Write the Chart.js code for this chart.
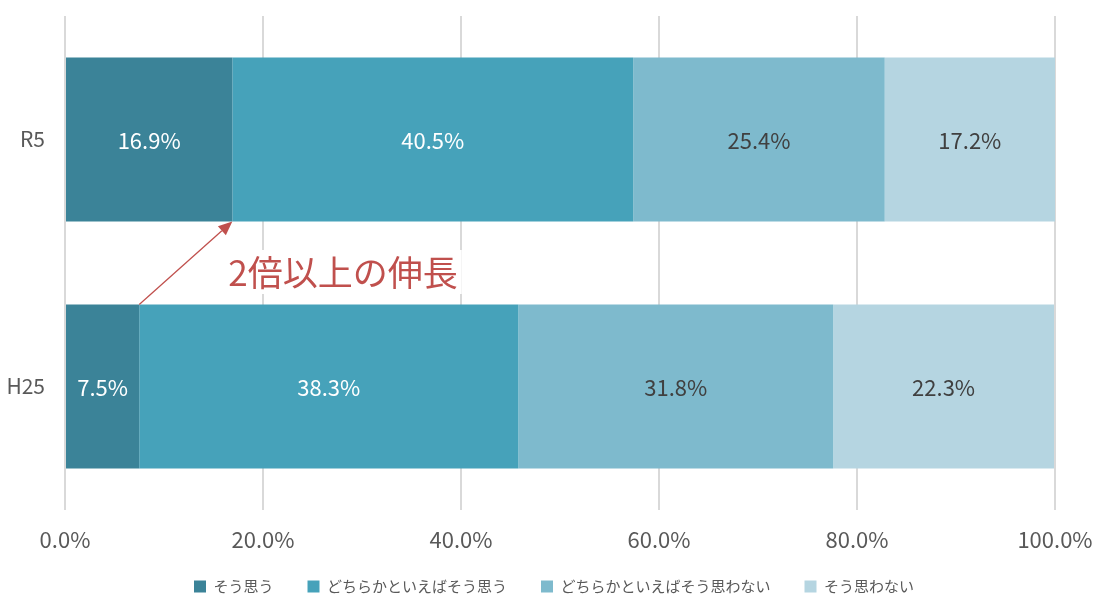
<!DOCTYPE html>
<html>
<head>
<meta charset="utf-8">
<script src="https://cdn.jsdelivr.net/npm/chart.js@4"></script>
<style>
html,body{margin:0;padding:0;background:#fff;}
#wrap{width:1108px;height:611px;position:relative;}
</style>
</head>
<body>
<div id="wrap"><canvas id="c" width="1108" height="611"></canvas></div>
<script>
const categories = ['R5', 'H25'];
const seriesNames = ['そう思う', 'どちらかといえばそう思う', 'どちらかといえばそう思わない', 'そう思わない'];
const soOmou = [16.9, 7.5];
const dochiraSoOmou = [40.5, 38.3];
const dochiraOmowanai = [25.4, 31.8];
const soOmowanai = [17.2, 22.3];
const xTicks = [0, 20, 40, 60, 80, 100];
const annotationText = '2倍以上の伸長';

const colors = ['#3B8398', '#46A2BA', '#7EBACD', '#B5D5E1'];
const labelColors = ['#FFFFFF', '#FFFFFF', '#404040', '#404040'];
const FONT = '"Noto Sans CJK JP", "Noto Sans", sans-serif';

const seriesData = [soOmou, dochiraSoOmou, dochiraOmowanai, soOmowanai];

const valueLabels = {
  id: 'valueLabels',
  afterDatasetsDraw(chart) {
    const ctx = chart.ctx;
    ctx.save();
    ctx.font = '22px ' + FONT;
    ctx.textAlign = 'center';
    ctx.textBaseline = 'middle';
    chart.data.datasets.forEach((ds, di) => {
      const meta = chart.getDatasetMeta(di);
      meta.data.forEach((el, i) => {
        const v = ds.data[i];
        ctx.fillStyle = labelColors[di];
        ctx.fillText(v.toFixed(1) + '%', (el.x + el.base) / 2, el.y + 1);
      });
    });
    ctx.restore();
  }
};

const arrowNote = {
  id: 'arrowNote',
  afterDatasetsDraw(chart) {
    const ctx = chart.ctx;
    const meta = chart.getDatasetMeta(0);
    const top = meta.data[0];   // R5
    const bot = meta.data[1];   // H25
    const x0 = bot.x, y0 = bot.y - bot.height / 2;
    const x1 = top.x, y1 = top.y + top.height / 2;
    const red = '#C0504D';
    ctx.save();
    ctx.font = '35px ' + FONT;
    const tw = ctx.measureText(annotationText).width;
    const tx = x1 - 4;
    const ty = (y0 + y1) / 2 + 9;
    ctx.fillStyle = '#FFFFFF';
    ctx.fillRect(tx - 4, ty - 22, tw + 8, 44);
    ctx.fillStyle = red;
    ctx.textAlign = 'left';
    ctx.textBaseline = 'middle';
    ctx.fillText(annotationText, tx, ty + 1);
    const ang = Math.atan2(y1 - y0, x1 - x0);
    const hl = 14, hw = 6;
    const bx = x1 - hl * Math.cos(ang), by = y1 - hl * Math.sin(ang);
    ctx.strokeStyle = red;
    ctx.lineWidth = 1.3;
    ctx.beginPath();
    ctx.moveTo(x0, y0);
    ctx.lineTo(bx, by);
    ctx.stroke();
    ctx.fillStyle = red;
    ctx.beginPath();
    ctx.moveTo(x1, y1);
    ctx.lineTo(bx + hw * Math.sin(ang), by - hw * Math.cos(ang));
    ctx.lineTo(bx - hw * Math.sin(ang), by + hw * Math.cos(ang));
    ctx.closePath();
    ctx.fill();
    ctx.restore();
  }
};

const legendPlace = {
  id: 'legendPlace',
  beforeLayout(chart) {
    const lg = chart.legend;
    if (lg && !lg._patched) {
      const orig = lg.fit;
      lg.fit = function () { orig.call(this); this.height = 40; };
      lg._patched = true;
    }
  },
  beforeDraw(chart) {
    const lg = chart.legend;
    if (lg) {
      lg.left = 0;
      lg.right = chart.width;
      lg.top = 545;
      lg.bottom = chart.height;
    }
  }
};

new Chart(document.getElementById('c'), {
  type: 'bar',
  data: {
    labels: categories,
    datasets: seriesNames.map((n, i) => ({
      label: n,
      data: seriesData[i],
      backgroundColor: colors[i],
      borderWidth: 0,
      barPercentage: 0.664,
      categoryPercentage: 1.0
    }))
  },
  options: {
    indexAxis: 'y',
    responsive: false,
    animation: false,
    devicePixelRatio: 1,
    layout: { padding: { left: 0, right: 53, top: 16, bottom: 8 } },
    scales: {
      x: {
        stacked: true,
        min: 0, max: 100,
        afterBuildTicks(scale) { scale.ticks = xTicks.map(v => ({ value: v })); },
        ticks: {
          callback: v => Number(v).toFixed(1) + '%',
          color: '#595959',
          font: { size: 22, family: FONT },
          padding: 16
        },
        grid: { color: '#D9D9D9', lineWidth: 2, drawTicks: false },
        border: { display: false },
        afterFit(scale) {
          scale.height = 53;
          scale.paddingLeft = 0; scale.paddingRight = 0;
          scale.paddingTop = 0; scale.paddingBottom = 0;
        }
      },
      y: {
        stacked: true,
        ticks: {
          color: '#595959',
          font: { size: 21, family: FONT },
          padding: 20
        },
        grid: { display: false, drawTicks: false },
        border: { display: false },
        afterFit(scale) {
          scale.width = 65;
          scale.paddingTop = 0; scale.paddingBottom = 0;
          scale.paddingLeft = 0; scale.paddingRight = 0;
        }
      }
    },
    plugins: {
      legend: {
        position: 'bottom',
        labels: {
          color: '#595959',
          font: { size: 15, family: FONT },
          boxWidth: 12,
          boxHeight: 12,
          padding: 34
        }
      },
      tooltip: { enabled: false }
    }
  },
  plugins: [valueLabels, arrowNote, legendPlace]
});
</script>
</body>
</html>
